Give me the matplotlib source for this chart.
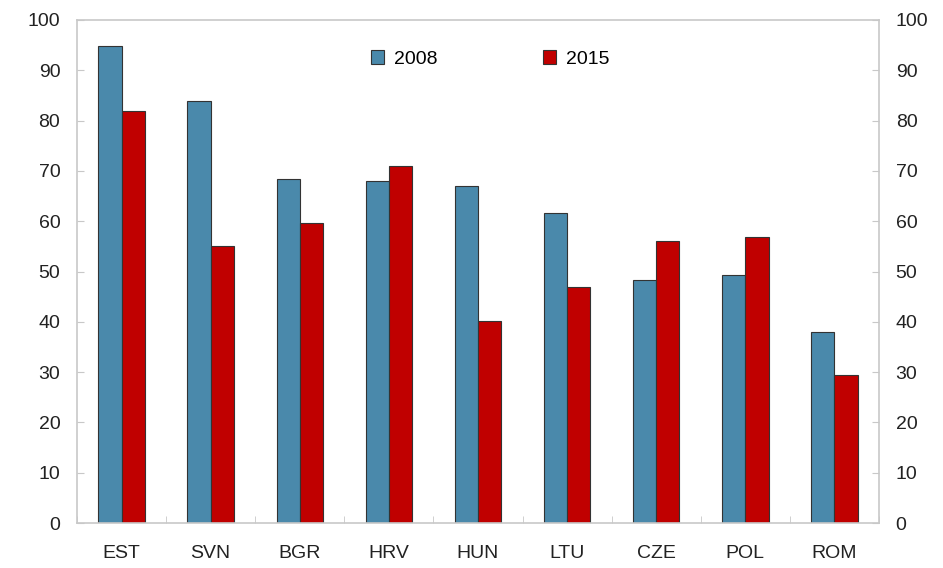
import numpy as np
import matplotlib.pyplot as plt

plt.rcParams['font.family'] = ['Liberation Sans', 'DejaVu Sans']

countries = ["EST", "SVN", "BGR", "HRV", "HUN", "LTU", "CZE", "POL", "ROM"]
vals_2008 = [94.8, 83.9, 68.3, 68.0, 67.0, 61.6, 48.4, 49.4, 38.0]
vals_2015 = [82.0, 55.0, 59.6, 71.0, 40.2, 47.0, 56.0, 56.8, 29.5]
yticks = list(range(0, 101, 10))

c08 = "#4a89ab"
c15 = "#c00000"
edge = "#333333"
grey = "#c8c8c8"

fig = plt.figure(figsize=(9.43, 5.68), dpi=100)
ax = fig.add_axes([77 / 943, 1 - 523 / 568, (879 - 77) / 943, (523 - 20) / 568])

x = np.arange(len(countries))
w = 0.26
ax.bar(x - w / 2, vals_2008, w, color=c08, edgecolor=edge, linewidth=0.8, label="2008")
ax.bar(x + w / 2, vals_2015, w, color=c15, edgecolor=edge, linewidth=0.8, label="2015")

ax.set_xlim(-0.5, len(countries) - 0.5)
ax.set_ylim(0, 100)
ax.set_yticks(yticks)
ax.set_xticks(x)
ax.set_xticklabels(countries)
ax.set_xticks(np.arange(len(countries) + 1) - 0.5, minor=True)

for s in ax.spines.values():
    s.set_color(grey)
    s.set_linewidth(1.2)

ax.tick_params(axis="y", direction="in", length=5, color=grey, labelsize=14,
               labelcolor="#222222", pad=12, right=True, labelright=True)
ax.tick_params(axis="x", which="major", length=0, labelsize=14,
               labelcolor="#222222", pad=16)
ax.tick_params(axis="x", which="minor", direction="in", length=5, color=grey)

ax.legend(loc="upper center", bbox_to_anchor=(0.515, 0.975), ncol=2, frameon=False,
          fontsize=14, handlelength=0.7, handleheight=0.7, columnspacing=5.4,
          handletextpad=0.5)

fig.savefig("out.png", dpi=100)
